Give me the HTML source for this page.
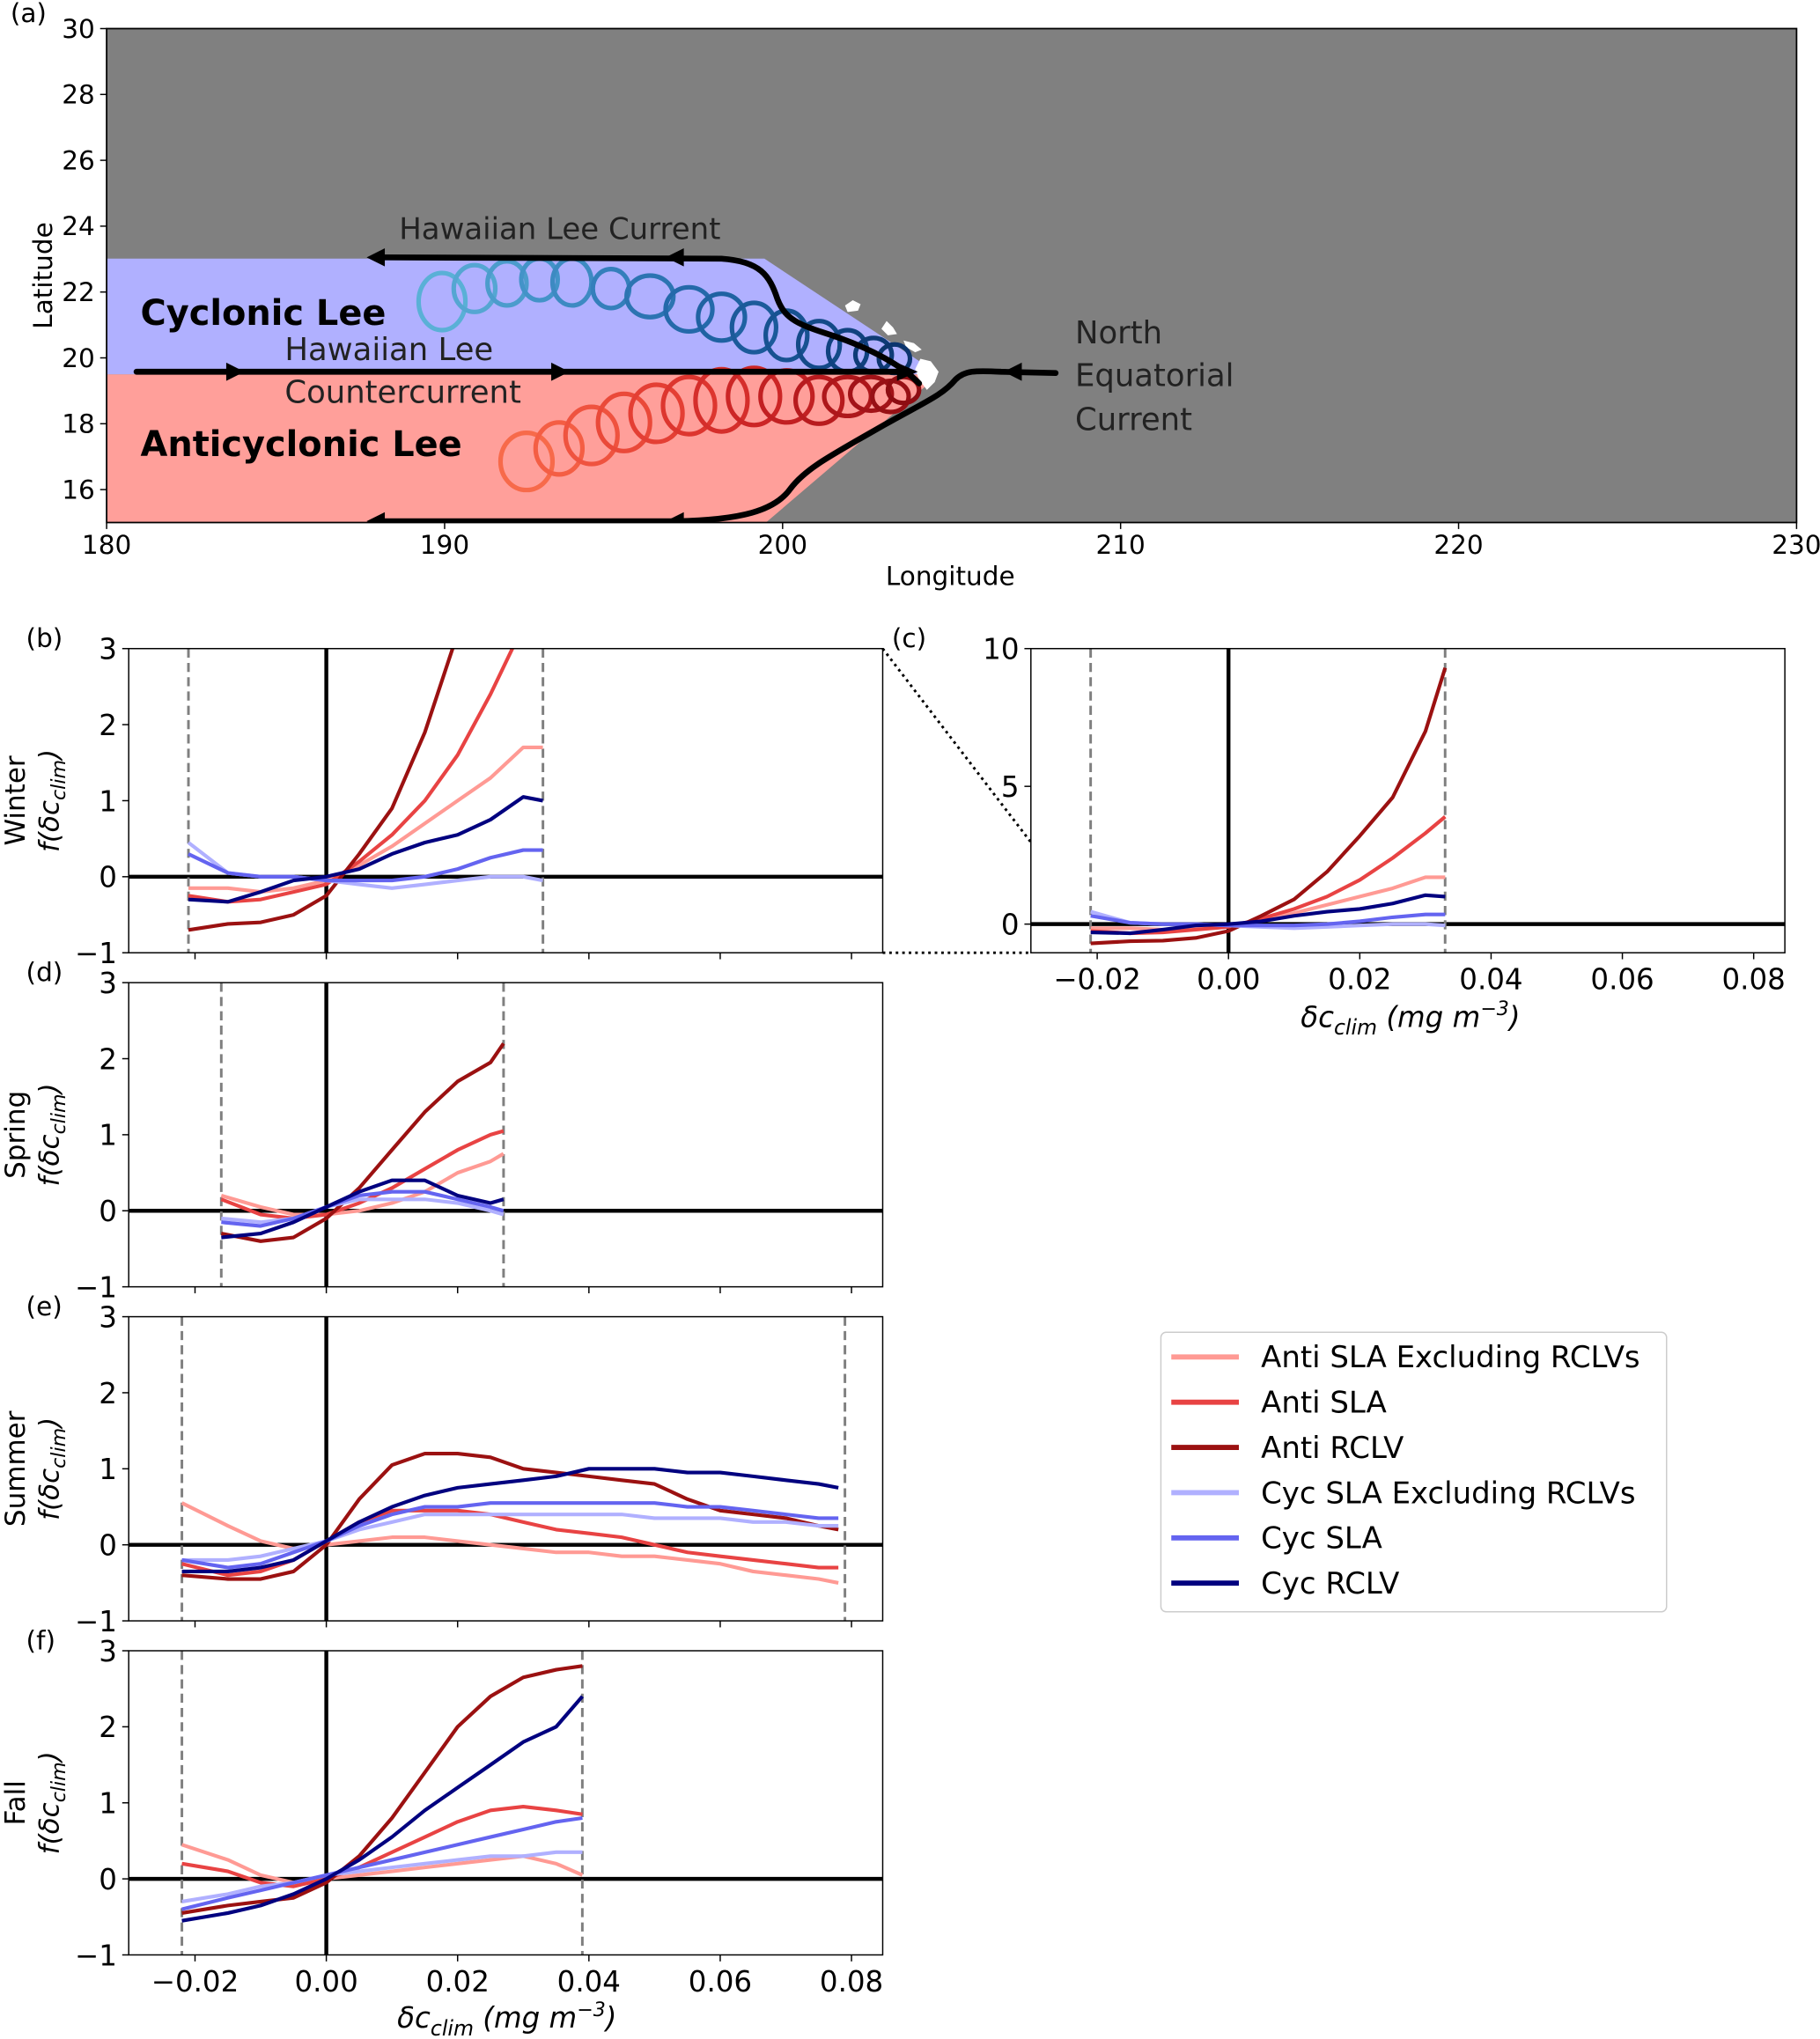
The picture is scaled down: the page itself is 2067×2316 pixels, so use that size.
<!DOCTYPE html>
<html><head><meta charset="utf-8">
<style>
html,body{margin:0;padding:0;background:#fff;}
svg{display:block;font-family:"DejaVu Sans","Liberation Sans",sans-serif;}
</style></head>
<body>
<svg id="fig" width="2067" height="2316" viewBox="0 0 1400 1568.7" xmlns="http://www.w3.org/2000/svg">
<defs>
<clipPath id="clipA"><rect x="82" y="22" width="1300" height="380"/></clipPath>
</defs>
<g id="panelA">
<rect x="82" y="22" width="1300" height="380" fill="#808080"/>
<g clip-path="url(#clipA)">
<polygon points="82,199 588,199 715,283 712,288 82,288" fill="#b0b0ff"/>
<polygon points="82,288 712,288 718,292 588,403 82,403" fill="#ff9f9a"/>
<g fill="#fff">
<path d="M650,235 l6,-4 6,3 -2,5 -8,1z"/>
<path d="M678,253 l4,-6 5,5 3,5 -7,1z"/>
<path d="M695,262 l8,2 6,5 -5,2 -7,-4z"/>
<path d="M708,276 l8,2 6,8 -3,8 -6,6 -6,-8 -3,-8z"/>
</g>
<g id="eddies"></g>
<g fill="none" stroke="#000" stroke-width="4.5" stroke-linecap="round">
<path d="M290,198 L555,199 C585,201 592,212 598,230 C604,246 615,250 640,258 C670,268 695,282 707,295"/>
<path d="M105,286 L698,286"/>
<path d="M290,401 L520,401 C570,400 596,393 608,376 C620,360 640,350 680,327 C712,309 725,304 735,292 C742,285 750,285 770,286 L812,287"/>
</g>
<g fill="#000">
<polygon points="282,198 296,191 296,205"/>
<polygon points="512,198 526,191 526,205"/>
<polygon points="282,401 296,394 296,408"/>
<polygon points="512,401 526,394 526,408"/>
<polygon points="188,286 174,279 174,293"/>
<polygon points="438,286 424,279 424,293"/>
<polygon points="706,286 690,279 690,293"/>
<polygon points="772,286 786,279 786,293"/>
</g>
</g>
<rect x="82" y="22" width="1300" height="380" fill="none" stroke="#000" stroke-width="1.2"/>
<g fill="#222" font-size="24">
<text x="307" y="184" font-size="23">Hawaiian Lee Current</text>
<text x="219" y="277">Hawaiian Lee</text>
<text x="219" y="310">Countercurrent</text>
<text x="827" y="264">North</text>
<text x="827" y="297">Equatorial</text>
<text x="827" y="331">Current</text>
<text x="108" y="250" font-weight="bold" font-size="27" fill="#000">Cyclonic Lee</text>
<text x="108" y="351" font-weight="bold" font-size="27" fill="#000">Anticyclonic Lee</text>
</g>
<g id="mapTicks" font-size="20"></g>
<text x="731" y="450" font-size="20" text-anchor="middle">Longitude</text>
<text transform="translate(40,212) rotate(-90)" font-size="20" text-anchor="middle">Latitude</text>
<text x="8" y="17" font-size="20">(a)</text>
</g>
<g id="plots"></g>
<line x1="679" y1="499" x2="793" y2="648" stroke="#000" stroke-width="2" stroke-dasharray="2,3"/>
<line x1="679" y1="733" x2="793" y2="733" stroke="#000" stroke-width="2" stroke-dasharray="2,3"/>
<g id="legend">
<rect x="893" y="1025" width="389" height="215" rx="4" fill="#fff" stroke="#ccc" stroke-width="1"/>
</g>
</svg>
<script>
// ---- Data ----
const seriesNames = ["Anti SLA Excluding RCLVs","Anti SLA","Anti RCLV","Cyc SLA Excluding RCLVs","Cyc SLA","Cyc RCLV"];
const seriesColors = ["#ff9a94","#e84343","#9b1111","#b0b0ff","#6464f0","#00007f"];
const xTicks = [-0.02,0,0.02,0.04,0.06,0.08];
const xTickLabels = ["\u22120.02","0.00","0.02","0.04","0.06","0.08"];
const yTicksSmall = [-1,0,1,2,3];
const yTickLabelsSmall = ["\u22121","0","1","2","3"];
const yTicksZoom = [0,5,10];
const yTickLabelsZoom = ["0","5","10"];

const winterX = [-0.021,-0.015,-0.01,-0.005,0,0.005,0.01,0.015,0.02,0.025,0.03,0.033];
const winterAntiExcl = [-0.15,-0.15,-0.2,-0.15,-0.05,0.15,0.4,0.7,1.0,1.3,1.7,1.7];
const winterAntiSLA = [-0.25,-0.33,-0.3,-0.2,-0.1,0.2,0.55,1.0,1.6,2.4,3.3,3.9];
const winterAntiRCLV = [-0.7,-0.62,-0.6,-0.5,-0.25,0.3,0.9,1.9,3.2,4.6,7.0,9.3];
const winterCycExcl = [0.45,0.05,0,0,-0.05,-0.1,-0.15,-0.1,-0.05,0,0,-0.05];
const winterCycSLA = [0.3,0.05,0,0,-0.05,-0.05,-0.05,0,0.1,0.25,0.35,0.35];
const winterCycRCLV = [-0.3,-0.33,-0.2,-0.05,0,0.1,0.3,0.45,0.55,0.75,1.05,1.0];

const springX = [-0.016,-0.01,-0.005,0,0.005,0.01,0.015,0.02,0.025,0.027];
const springAntiExcl = [0.2,0.05,-0.05,-0.05,0,0.1,0.25,0.5,0.65,0.75];
const springAntiSLA = [0.15,-0.05,-0.1,-0.05,0.1,0.3,0.55,0.8,1.0,1.05];
const springAntiRCLV = [-0.3,-0.4,-0.35,-0.1,0.3,0.8,1.3,1.7,1.95,2.2];
const springCycExcl = [-0.1,-0.15,-0.1,0.05,0.15,0.15,0.15,0.1,0,-0.05];
const springCycSLA = [-0.15,-0.2,-0.1,0.05,0.2,0.25,0.25,0.15,0.05,0];
const springCycRCLV = [-0.35,-0.3,-0.15,0.05,0.25,0.4,0.4,0.2,0.1,0.15];

const summerX = [-0.022,-0.015,-0.01,-0.005,0,0.005,0.01,0.015,0.02,0.025,0.03,0.035,0.04,0.045,0.05,0.055,0.06,0.065,0.07,0.075,0.078];
const summerAntiExcl = [0.55,0.25,0.05,-0.05,0,0.05,0.1,0.1,0.05,0,-0.05,-0.1,-0.1,-0.15,-0.15,-0.2,-0.25,-0.35,-0.4,-0.45,-0.5];
const summerAntiSLA = [-0.25,-0.4,-0.35,-0.2,0.05,0.3,0.45,0.45,0.45,0.4,0.3,0.2,0.15,0.1,0,-0.1,-0.15,-0.2,-0.25,-0.3,-0.3];
const summerAntiRCLV = [-0.4,-0.45,-0.45,-0.35,0,0.6,1.05,1.2,1.2,1.15,1.0,0.95,0.9,0.85,0.8,0.6,0.45,0.4,0.35,0.25,0.2];
const summerCycExcl = [-0.2,-0.2,-0.15,-0.05,0.05,0.2,0.3,0.4,0.4,0.4,0.4,0.4,0.4,0.4,0.35,0.35,0.35,0.3,0.3,0.25,0.25];
const summerCycSLA = [-0.2,-0.3,-0.25,-0.1,0.05,0.25,0.4,0.5,0.5,0.55,0.55,0.55,0.55,0.55,0.55,0.5,0.5,0.45,0.4,0.35,0.35];
const summerCycRCLV = [-0.35,-0.35,-0.3,-0.2,0.05,0.3,0.5,0.65,0.75,0.8,0.85,0.9,1.0,1.0,1.0,0.95,0.95,0.9,0.85,0.8,0.75];

const fallX = [-0.022,-0.015,-0.01,-0.005,0,0.005,0.01,0.015,0.02,0.025,0.03,0.035,0.039];
const fallAntiExcl = [0.45,0.25,0.05,-0.05,0,0.05,0.1,0.15,0.2,0.25,0.3,0.2,0.05];
const fallAntiSLA = [0.2,0.1,-0.05,-0.1,0,0.15,0.35,0.55,0.75,0.9,0.95,0.9,0.85];
const fallAntiRCLV = [-0.45,-0.35,-0.3,-0.25,-0.05,0.3,0.8,1.4,2.0,2.4,2.65,2.75,2.8];
const fallCycExcl = [-0.3,-0.2,-0.1,-0.05,0.05,0.1,0.15,0.2,0.25,0.3,0.3,0.35,0.35];
const fallCycSLA = [-0.4,-0.25,-0.15,-0.05,0.05,0.15,0.25,0.35,0.45,0.55,0.65,0.75,0.8];
const fallCycRCLV = [-0.55,-0.45,-0.35,-0.2,0,0.25,0.55,0.9,1.2,1.5,1.8,2.0,2.4];

const winterBounds = [-0.021,0.033];
const springBounds = [-0.016,0.027];
const summerBounds = [-0.022,0.079];
const fallBounds = [-0.022,0.039];

const lonTicks = [180,190,200,210,220,230];
const latTicks = [16,18,20,22,24,26,28,30];

// ---- Drawing ----
const NS = "http://www.w3.org/2000/svg";
function mk(tag, attrs, parent){const e=document.createElementNS(NS,tag);for(const k in attrs)e.setAttribute(k,attrs[k]);if(parent)parent.appendChild(e);return e;}

const mt = document.getElementById('mapTicks');
const lonX = v => 82 + (v-180)/50*1300;
const latY = v => 402 - (v-15)/15*380;
lonTicks.forEach(v=>{
  const l=mk('line',{x1:lonX(v),x2:lonX(v),y1:402,y2:407,stroke:'#000'},mt);
  
  
  const t=mk('text',{x:lonX(v),y:426,'text-anchor':'middle'},mt);t.textContent=v;
  
  
});
latTicks.forEach(v=>{
  const l=mk('line',{x1:77,x2:82,y1:latY(v),y2:latY(v),stroke:'#000'},mt);
  
  
  const t=mk('text',{x:73,y:latY(v)+7,'text-anchor':'end'},mt);t.textContent=v;
  
  
});

const eg = document.getElementById('eddies');
const blueCenters = [[340,232,18,22],[365,222,16,18],[390,218,15,17],[415,215,14,16],[440,217,15,18],[470,222,14,15],[500,228,18,16],[530,238,18,17],[555,244,18,18],[580,252,17,19],[605,258,16,19],[630,265,16,18],[652,270,15,16],[672,273,14,13],[688,276,12,11]];
const blueCols = ["#5ab0d6","#55a6d2","#4c9ccc","#4393c8","#3d8ac2","#347fbb","#2c74b2","#2469aa","#1f62a2","#1b5a9a","#175291","#134a88","#104280","#0e3b76","#0c356e"];
blueCenters.forEach((c,i)=>{
  const e=mk('ellipse',{cx:c[0],cy:c[1],rx:c[2],ry:c[3],fill:'none',stroke:blueCols[i],'stroke-width':3.5},eg);
  
  
});
const redCenters = [[405,355,20,22],[430,345,18,20],[455,335,20,22],[480,325,20,22],[505,318,20,22],[530,312,20,22],[555,308,20,24],[580,305,20,22],[605,305,20,20],[630,308,18,18],[652,305,18,15],[670,303,16,13],[685,305,14,12],[695,300,12,10]];
const redCols = ["#f76a4a","#f45e44","#ef533f","#ea4939","#e43f34","#dd362f","#d52e2b","#cc2626","#c22022","#b81b1e","#ae171b","#a31318","#981015","#8e0d12"];
redCenters.forEach((c,i)=>{
  const e=mk('ellipse',{cx:c[0],cy:c[1],rx:c[2],ry:c[3],fill:'none',stroke:redCols[i],'stroke-width':3.5},eg);
  
  
});

const plots = document.getElementById('plots');
let clipId=0;
function panel(opts){
  const {left,top,w,h,xmin,xmax,ymin,ymax,xs,series,bounds,yTicks,yLabels,showX,name} = opts;
  const g=mk('g',{},plots);
  
  
  const sx=v=>left+(v-xmin)/(xmax-xmin)*w;
  const sy=v=>top+h-(v-ymin)/(ymax-ymin)*h;
  const cid='c'+(clipId++);
  const cp=mk('clipPath',{id:cid},g);mk('rect',{x:left,y:top,width:w,height:h},cp);
  mk('rect',{x:left,y:top,width:w,height:h,fill:'#fff'},g);
  const inner=mk('g',{'clip-path':'url(#'+cid+')'},g);
  const zh=mk('line',{x1:left,x2:left+w,y1:sy(0),y2:sy(0),stroke:'#000','stroke-width':3},inner);
  
  
  const zv=mk('line',{x1:sx(0),x2:sx(0),y1:top,y2:top+h,stroke:'#000','stroke-width':3},inner);
  
  
  bounds.forEach(b=>{
    const d=mk('line',{x1:sx(b),x2:sx(b),y1:top,y2:top+h,stroke:'#7f7f7f','stroke-width':2,'stroke-dasharray':'7,4'},inner);
    
    
  });
  series.forEach((s,i)=>{
    const pts=xs.map((x,j)=>sx(x).toFixed(1)+','+sy(s[j]).toFixed(1)).join(' ');
    const pl=mk('polyline',{points:pts,fill:'none',stroke:seriesColors[i],'stroke-width':2.8,'stroke-linejoin':'round'},inner);
    
    
  });
  mk('rect',{x:left,y:top,width:w,height:h,fill:'none',stroke:'#000','stroke-width':1},g);
  xTicks.forEach((v,i)=>{
    const l=mk('line',{x1:sx(v),x2:sx(v),y1:top+h,y2:top+h+5,stroke:'#000'},g);
    
    
    if(showX){
      const t=mk('text',{x:sx(v),y:top+h+28,'text-anchor':'middle','font-size':22},g);t.textContent=xTickLabels[i];
      
      
    }
  });
  yTicks.forEach((v,i)=>{
    const l=mk('line',{x1:left-5,x2:left,y1:sy(v),y2:sy(v),stroke:'#000'},g);
    
    
    const t=mk('text',{x:left-9,y:sy(v)+8,'text-anchor':'end','font-size':22},g);t.textContent=yLabels[i];
    
    
  });
  return g;
}
function ylab(g,season,cy,letter,ly){
  const t=mk('text',{transform:'translate(19,'+cy+') rotate(-90)','text-anchor':'middle','font-size':21},g);
  t.innerHTML=season;
  
  
  const t2=mk('text',{transform:'translate(45,'+cy+') rotate(-90)','text-anchor':'middle','font-size':21,'font-style':'italic'},g);
  t2.innerHTML='f(δc<tspan font-size="15" dy="5">clim</tspan><tspan dy="-5">)</tspan>';
  
  
  const t3=mk('text',{x:20,y:ly,'font-size':20},g);t3.textContent=letter;
  
  
}
const XMIN=-0.02-(150-99)/5050, XMAX=XMIN+580/5050;
const gw=panel({name:'winter-panel',left:99,top:499,w:580,h:234,xmin:XMIN,xmax:XMAX,ymin:-1,ymax:3,xs:winterX,series:[winterAntiExcl,winterAntiSLA,winterAntiRCLV,winterCycExcl,winterCycSLA,winterCycRCLV],bounds:winterBounds,yTicks:yTicksSmall,yLabels:yTickLabelsSmall,showX:false});
ylab(gw,'Winter',616,'(b)',498);
const gc=panel({name:'winter-zoomout-panel',left:793,top:499,w:580,h:234,xmin:XMIN,xmax:XMAX,ymin:-1.04,ymax:10,xs:winterX,series:[winterAntiExcl,winterAntiSLA,winterAntiRCLV,winterCycExcl,winterCycSLA,winterCycRCLV],bounds:winterBounds,yTicks:yTicksZoom,yLabels:yTickLabelsZoom,showX:true});
{const t=mk('text',{x:686,y:498,'font-size':20},gc);t.textContent='(c)';

}
const gd=panel({name:'spring-panel',left:99,top:756,w:580,h:234,xmin:XMIN,xmax:XMAX,ymin:-1,ymax:3,xs:springX,series:[springAntiExcl,springAntiSLA,springAntiRCLV,springCycExcl,springCycSLA,springCycRCLV],bounds:springBounds,yTicks:yTicksSmall,yLabels:yTickLabelsSmall,showX:false});
ylab(gd,'Spring',873,'(d)',755);
const ge=panel({name:'summer-panel',left:99,top:1013,w:580,h:234,xmin:XMIN,xmax:XMAX,ymin:-1,ymax:3,xs:summerX,series:[summerAntiExcl,summerAntiSLA,summerAntiRCLV,summerCycExcl,summerCycSLA,summerCycRCLV],bounds:summerBounds,yTicks:yTicksSmall,yLabels:yTickLabelsSmall,showX:false});
ylab(ge,'Summer',1130,'(e)',1012);
const gf=panel({name:'fall-panel',left:99,top:1270,w:580,h:234,xmin:XMIN,xmax:XMAX,ymin:-1,ymax:3,xs:fallX,series:[fallAntiExcl,fallAntiSLA,fallAntiRCLV,fallCycExcl,fallCycSLA,fallCycRCLV],bounds:fallBounds,yTicks:yTicksSmall,yLabels:yTickLabelsSmall,showX:true});
ylab(gf,'Fall',1387,'(f)',1269);
function xlab(g,cx,y){
  const t=mk('text',{x:cx,y:y,'text-anchor':'middle','font-size':22,'font-style':'italic'},g);
  t.innerHTML='δc<tspan font-size="16" dy="6">clim</tspan><tspan dy="-6"> (mg  m</tspan><tspan font-size="15" dy="-9">−3</tspan><tspan dy="9">)</tspan>';
  
  
}
xlab(gf,390,1560);
xlab(gc,1085,790);

const lg=document.getElementById('legend');
seriesNames.forEach((n,i)=>{
  const y=1044+i*34.8;
  const l=mk('line',{x1:901,x2:953,y1:y,y2:y,stroke:seriesColors[i],'stroke-width':4},lg);
  
  
  const t=mk('text',{x:970,y:y+8,'font-size':23},lg);t.textContent=n;
  
  
});
</script>
</body></html>
